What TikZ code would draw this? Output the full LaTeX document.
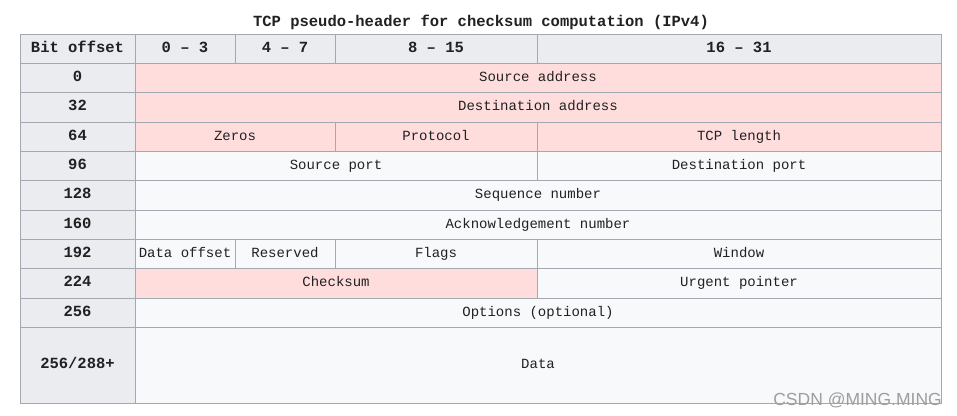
\documentclass[tikz,border=0pt]{standalone}
\usepackage{fontspec}
\setmainfont{Liberation Mono}
\newfontfamily\wmfont{Liberation Sans}
\definecolor{bordergray}{HTML}{A2A9B1}
\definecolor{headfill}{HTML}{EAECF0}
\definecolor{cellfill}{HTML}{F8F9FA}
\definecolor{pinkfill}{HTML}{FFDDDD}
\definecolor{txt}{HTML}{202122}
\tikzset{
  cellbase/.style={draw=bordergray, line width=0.9pt, inner sep=0pt, outer sep=0pt, text=txt, text height=10pt, text depth=3pt, font=\fontsize{14}{16}\selectfont},
  headcell/.style={cellbase, fill=headfill, font=\fontsize{15.5}{17}\selectfont\bfseries},
  plaincell/.style={cellbase, fill=cellfill},
  pinkcell/.style={cellbase, fill=pinkfill},
}
% name, x1, y1, x2, y2, style, text
\newcommand\tabcell[7]{%
  \node[#6, minimum width={(#4-#2)*1pt}, minimum height={(#5-#3)*1pt}] (#1) at ({(#2+#4)/2},{(#3+#5)/2}) {#7};}
\begin{document}
\begin{tikzpicture}[x=1pt,y=-1pt]
\useasboundingbox[fill=white] (0,0) rectangle (957,415);
\node[font=\fontsize{15.5}{17}\selectfont\bfseries, text=txt] (title) at (481,22) {TCP pseudo-header for checksum computation (IPv4)};
% header row
\tabcell{h0}{20}{34}{135}{63.3}{headcell}{Bit offset}
\tabcell{h1}{135}{34}{235}{63.3}{headcell}{0 – 3}
\tabcell{h2}{235}{34}{335}{63.3}{headcell}{4 – 7}
\tabcell{h3}{335}{34}{537}{63.3}{headcell}{8 – 15}
\tabcell{h4}{537}{34}{941}{63.3}{headcell}{16 – 31}
% row labels
\tabcell{r0}{20}{63.3}{135}{92.7}{headcell}{0}
\tabcell{r1}{20}{92.7}{135}{122}{headcell}{32}
\tabcell{r2}{20}{122}{135}{151.3}{headcell}{64}
\tabcell{r3}{20}{151.3}{135}{180.7}{headcell}{96}
\tabcell{r4}{20}{180.7}{135}{210}{headcell}{128}
\tabcell{r5}{20}{210}{135}{239.3}{headcell}{160}
\tabcell{r6}{20}{239.3}{135}{268.7}{headcell}{192}
\tabcell{r7}{20}{268.7}{135}{298}{headcell}{224}
\tabcell{r8}{20}{298}{135}{327.3}{headcell}{256}
\tabcell{r9}{20}{327.3}{135}{403.3}{headcell}{256/288+}
% body
\tabcell{src}{135}{63.3}{941}{92.7}{pinkcell}{Source address}
\tabcell{dst}{135}{92.7}{941}{122}{pinkcell}{Destination address}
\tabcell{zeros}{135}{122}{335}{151.3}{pinkcell}{Zeros}
\tabcell{proto}{335}{122}{537}{151.3}{pinkcell}{Protocol}
\tabcell{tcplen}{537}{122}{941}{151.3}{pinkcell}{TCP length}
\tabcell{sport}{135}{151.3}{537}{180.7}{plaincell}{Source port}
\tabcell{dport}{537}{151.3}{941}{180.7}{plaincell}{Destination port}
\tabcell{seq}{135}{180.7}{941}{210}{plaincell}{Sequence number}
\tabcell{ack}{135}{210}{941}{239.3}{plaincell}{Acknowledgement number}
\tabcell{doff}{135}{239.3}{235}{268.7}{plaincell}{Data offset}
\tabcell{resv}{235}{239.3}{335}{268.7}{plaincell}{Reserved}
\tabcell{flags}{335}{239.3}{537}{268.7}{plaincell}{Flags}
\tabcell{win}{537}{239.3}{941}{268.7}{plaincell}{Window}
\tabcell{csum}{135}{268.7}{537}{298}{pinkcell}{Checksum}
\tabcell{urg}{537}{268.7}{941}{298}{plaincell}{Urgent pointer}
\tabcell{opts}{135}{298}{941}{327.3}{plaincell}{Options (optional)}
\tabcell{data}{135}{327.3}{941}{403.3}{plaincell}{Data}
% watermark
\node[anchor=base east, inner sep=0pt, text=black!38, font=\wmfont\fontsize{17.5}{19}\selectfont] (wm) at (942,405) {CSDN @MING.MING};
\end{tikzpicture}
\end{document}
